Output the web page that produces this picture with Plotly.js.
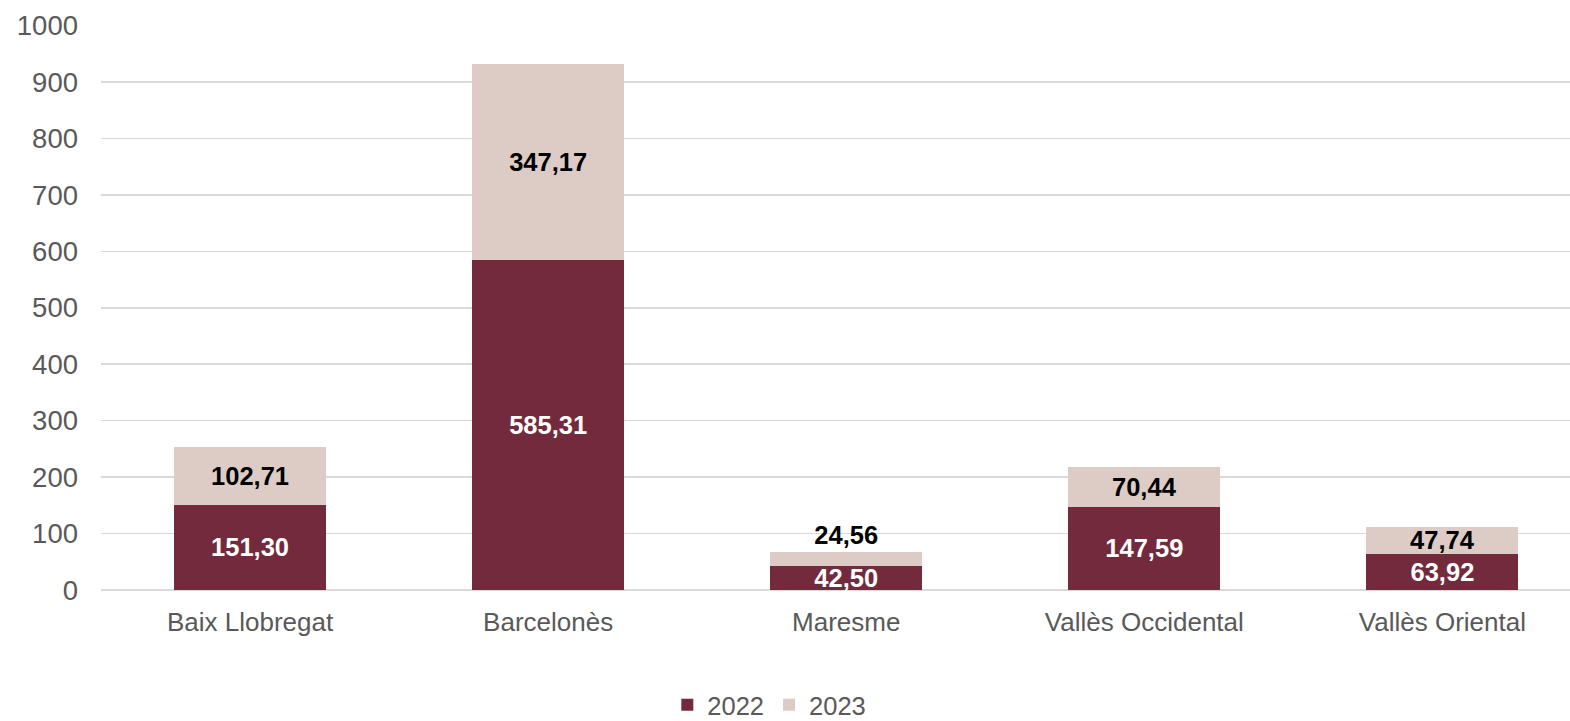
<!DOCTYPE html>
<html>
<head>
<meta charset="utf-8">
<script src="https://cdn.plot.ly/plotly-3.0.1.min.js"></script>
<style>html,body{margin:0;padding:0;background:#fff;}#chart{width:1570px;height:721px;}</style>
</head>
<body>
<div id="chart"></div>
<script>
const categories = ["Baix Llobregat", "Barcelonès", "Maresme", "Vallès Occidental", "Vallès Oriental"];
const values2022 = [151.30, 585.31, 42.50, 147.59, 63.92];
const values2023 = [102.71, 347.17, 24.56, 70.44, 47.74];
const positions2023 = ["inside", "inside", "outside", "inside", "inside"];
const yTicks = [0, 100, 200, 300, 400, 500, 600, 700, 800, 900, 1000];

const fmt = v => v.toFixed(2).replace('.', ',');
const font = "Liberation Sans, Arial, sans-serif";

const traces = [
  {
    type: 'bar', name: '2022', x: categories, y: values2022,
    text: values2022.map(fmt), textposition: 'inside', insidetextanchor: 'middle',
    constraintext: 'none', cliponaxis: false,
    textfont: {family: font, size: 25.5, color: '#ffffff', weight: 'bold'},
    marker: {color: '#722A3C'}, hoverinfo: 'skip'
  },
  {
    type: 'bar', name: '2023', x: categories, y: values2023,
    text: values2023.map(fmt), textposition: positions2023, insidetextanchor: 'middle',
    constraintext: 'none', cliponaxis: false,
    textfont: {family: font, size: 25.5, color: '#000000', weight: 'bold'},
    marker: {color: '#DCCCC5'}, hoverinfo: 'skip'
  }
];

const layout = {
  width: 1570, height: 721,
  margin: {l: 101, r: 0, t: 24.5, b: 130.5, autoexpand: false},
  barmode: 'stack', bargap: 0.49,
  paper_bgcolor: '#ffffff', plot_bgcolor: '#ffffff',
  font: {family: font, size: 26, color: '#595959'},
  xaxis: {
    range: [-0.5, 4.428], showgrid: false, zeroline: false, automargin: false,
    showline: false, ticks: '', ticklabelstandoff: 14, tickfont: {size: 26, color: '#595959'}
  },
  yaxis: {
    range: [0, 1001], tickvals: yTicks, ticktext: yTicks.map(String), automargin: false,
    showgrid: true, gridcolor: '#D9D9D9', gridwidth: 1.5,
    zeroline: true, zerolinecolor: '#D9D9D9', zerolinewidth: 1.5,
    ticks: '', ticklabelstandoff: 22, tickfont: {size: 27.5, color: '#595959'}
  },
  showlegend: true,
  legend: {
    orientation: 'h', xref: 'container', yref: 'container',
    x: 0.49, xanchor: 'center', y: 0.022, yanchor: 'middle',
    font: {size: 25.5, color: '#595959'}, itemwidth: 30, traceorder: 'normal'
  }
};

Plotly.newPlot('chart', traces, layout, {staticPlot: true, displayModeBar: false});
</script>
</body>
</html>
